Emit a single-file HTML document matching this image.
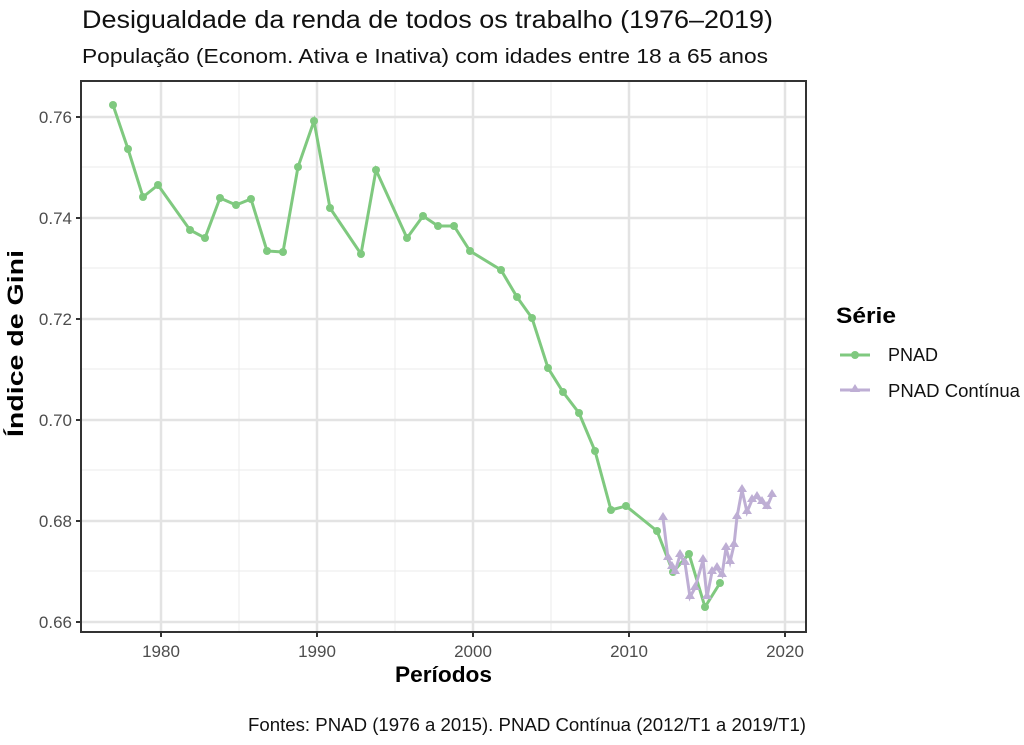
<!DOCTYPE html><html><head><style>body{margin:0;background:#fff;font-family:"Liberation Sans",sans-serif}</style></head><body>
<svg width="1024" height="740" xmlns="http://www.w3.org/2000/svg" font-family="Liberation Sans, sans-serif">
<text x="82" y="28" font-size="25" fill="#111" textLength="691" lengthAdjust="spacingAndGlyphs">Desigualdade da renda de todos os trabalho (1976–2019)</text>
<text x="82" y="63" font-size="20" fill="#111" textLength="686" lengthAdjust="spacingAndGlyphs">População (Econom. Ativa e Inativa) com idades entre 18 a 65 anos</text>
<rect x="81" y="81" width="725" height="551" fill="#fff"/>
<g stroke="#ebebeb" stroke-width="1">
<line x1="81" x2="806" y1="167" y2="167"/><line x1="81" x2="806" y1="268" y2="268"/><line x1="81" x2="806" y1="369" y2="369"/><line x1="81" x2="806" y1="470" y2="470"/><line x1="81" x2="806" y1="571" y2="571"/>
<line y1="81" y2="632" x1="239" x2="239"/><line y1="81" y2="632" x1="395" x2="395"/><line y1="81" y2="632" x1="551" x2="551"/><line y1="81" y2="632" x1="707" x2="707"/>
</g>
<g stroke="#e3e3e3" stroke-width="2.5">
<line x1="81" x2="806" y1="117" y2="117"/><line x1="81" x2="806" y1="218" y2="218"/><line x1="81" x2="806" y1="319" y2="319"/><line x1="81" x2="806" y1="420" y2="420"/><line x1="81" x2="806" y1="521" y2="521"/><line x1="81" x2="806" y1="622" y2="622"/>
<line y1="81" y2="632" x1="161" x2="161"/><line y1="81" y2="632" x1="317" x2="317"/><line y1="81" y2="632" x1="473" x2="473"/><line y1="81" y2="632" x1="629" x2="629"/><line y1="81" y2="632" x1="785" x2="785"/>
</g>
<polyline fill="none" stroke="#7fc97f" stroke-width="3" points="113,105 128,149 143,197 158,185 190,230 205,238 220,198 236,205 251,199 267,251 283,252 298,167 314,121 330,208 361,254 376,170 407,238 423,216 438,226 454,226 470,251 501,270 517,297 532,318 548,368 563,392 579,413 595,451 611,510 626,506 657,531 673,572 689,554 705,607 720,583"/>
<g fill="#7fc97f"><circle cx="113" cy="105" r="4"/><circle cx="128" cy="149" r="4"/><circle cx="143" cy="197" r="4"/><circle cx="158" cy="185" r="4"/><circle cx="190" cy="230" r="4"/><circle cx="205" cy="238" r="4"/><circle cx="220" cy="198" r="4"/><circle cx="236" cy="205" r="4"/><circle cx="251" cy="199" r="4"/><circle cx="267" cy="251" r="4"/><circle cx="283" cy="252" r="4"/><circle cx="298" cy="167" r="4"/><circle cx="314" cy="121" r="4"/><circle cx="330" cy="208" r="4"/><circle cx="361" cy="254" r="4"/><circle cx="376" cy="170" r="4"/><circle cx="407" cy="238" r="4"/><circle cx="423" cy="216" r="4"/><circle cx="438" cy="226" r="4"/><circle cx="454" cy="226" r="4"/><circle cx="470" cy="251" r="4"/><circle cx="501" cy="270" r="4"/><circle cx="517" cy="297" r="4"/><circle cx="532" cy="318" r="4"/><circle cx="548" cy="368" r="4"/><circle cx="563" cy="392" r="4"/><circle cx="579" cy="413" r="4"/><circle cx="595" cy="451" r="4"/><circle cx="611" cy="510" r="4"/><circle cx="626" cy="506" r="4"/><circle cx="657" cy="531" r="4"/><circle cx="673" cy="572" r="4"/><circle cx="689" cy="554" r="4"/><circle cx="705" cy="607" r="4"/><circle cx="720" cy="583" r="4"/></g>
<polyline fill="none" stroke="#beaed4" stroke-width="3" points="663,518 668,558 672,567 675,572 680,555 685,563 690,597 695,588 703,560 707,597 712,572 717,568 722,575 726,548 730,562 734,545 737,517 742,490 747,512 752,500 757,497 762,502 767,507 772,495"/>
<g fill="#beaed4">
<path d="M663,512l5,8h-10z"/><path d="M668,552l5,8h-10z"/><path d="M672,561l5,8h-10z"/><path d="M675,566l5,8h-10z"/><path d="M680,549l5,8h-10z"/><path d="M685,557l5,8h-10z"/><path d="M690,591l5,8h-10z"/><path d="M695,582l5,8h-10z"/><path d="M703,554l5,8h-10z"/><path d="M707,591l5,8h-10z"/><path d="M712,566l5,8h-10z"/><path d="M717,562l5,8h-10z"/><path d="M722,569l5,8h-10z"/><path d="M726,542l5,8h-10z"/><path d="M730,556l5,8h-10z"/><path d="M734,539l5,8h-10z"/><path d="M737,511l5,8h-10z"/><path d="M742,484l5,8h-10z"/><path d="M747,506l5,8h-10z"/><path d="M752,494l5,8h-10z"/><path d="M757,491l5,8h-10z"/><path d="M762,496l5,8h-10z"/><path d="M767,501l5,8h-10z"/><path d="M772,489l5,8h-10z"/>
</g>
<rect x="81" y="81" width="725" height="551" fill="none" stroke="#333" stroke-width="2"/>
<g stroke="#333" stroke-width="2">
<line x1="76" x2="81" y1="117" y2="117"/><line x1="76" x2="81" y1="218" y2="218"/><line x1="76" x2="81" y1="319" y2="319"/><line x1="76" x2="81" y1="420" y2="420"/><line x1="76" x2="81" y1="521" y2="521"/><line x1="76" x2="81" y1="622" y2="622"/>
<line y1="632" y2="637" x1="161" x2="161"/><line y1="632" y2="637" x1="317" x2="317"/><line y1="632" y2="637" x1="473" x2="473"/><line y1="632" y2="637" x1="629" x2="629"/><line y1="632" y2="637" x1="785" x2="785"/>
</g>
<g font-size="17" fill="#4d4d4d" text-anchor="end">
<text x="72" y="123">0.76</text><text x="72" y="224">0.74</text><text x="72" y="325">0.72</text><text x="72" y="426">0.70</text><text x="72" y="527">0.68</text><text x="72" y="628">0.66</text></g>
<g font-size="17" fill="#4d4d4d" text-anchor="middle">
<text x="161" y="657">1980</text><text x="317" y="657">1990</text><text x="473" y="657">2000</text><text x="629" y="657">2010</text><text x="785" y="657">2020</text></g>
<text x="395" y="682" font-size="22" font-weight="bold" fill="#000" textLength="97" lengthAdjust="spacingAndGlyphs">Períodos</text>
<text transform="translate(23,437) rotate(-90)" font-size="22" font-weight="bold" fill="#000" textLength="187" lengthAdjust="spacingAndGlyphs">Índice de Gini</text>
<text x="836" y="323" font-size="22" font-weight="bold" fill="#000" textLength="60" lengthAdjust="spacingAndGlyphs">Série</text>
<line x1="840" x2="870" y1="355" y2="355" stroke="#7fc97f" stroke-width="3"/><circle cx="855" cy="355" r="4" fill="#7fc97f"/>
<text x="888" y="361" font-size="18" fill="#111">PNAD</text>
<line x1="840" x2="870" y1="390" y2="390" stroke="#beaed4" stroke-width="3"/><path d="M855,384l5,8h-10z" fill="#beaed4"/>
<text x="888" y="397" font-size="18" fill="#111" textLength="132" lengthAdjust="spacingAndGlyphs">PNAD Contínua</text>
<text x="248" y="731" font-size="18" fill="#111" textLength="558" lengthAdjust="spacingAndGlyphs">Fontes: PNAD (1976 a 2015). PNAD Contínua (2012/T1 a 2019/T1)</text>
</svg></body></html>
